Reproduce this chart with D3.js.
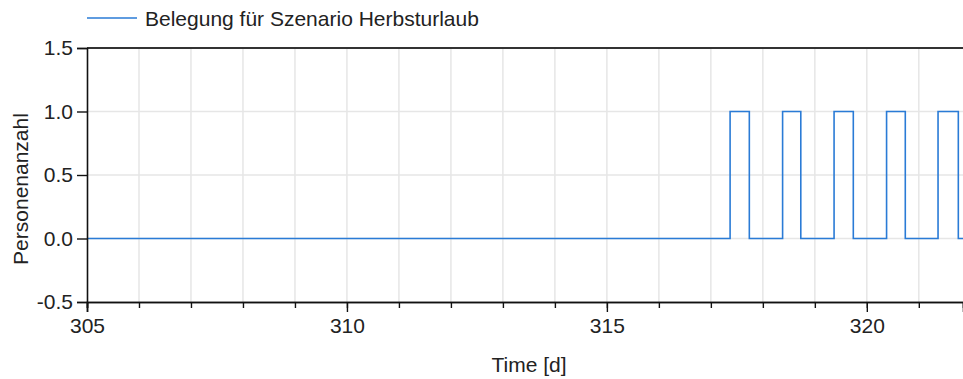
<!DOCTYPE html>
<html>
<head>
<meta charset="utf-8">
<script src="https://cdn.jsdelivr.net/npm/d3@7"></script>
<style>
  html, body { margin: 0; padding: 0; background: #fff; }
  svg { display: block; font-family: "Liberation Sans", Arial, sans-serif; }
</style>
</head>
<body>
<svg id="chart" width="963" height="379"></svg>
<script>
// Occupancy step signal (time in days, number of persons)
const seriesName = "Belegung für Szenario Herbsturlaub";
const times  = [305, 317.37, 317.74, 318.38, 318.73, 319.37, 319.74, 320.38, 320.74, 321.37, 321.76, 322];
const values = [0,   1,      0,      1,      0,      1,      0,      1,      0,      1,      0,      0];

const xMajorTicks = [305, 310, 315, 320];
const xMinorTicks = d3.range(305, 322, 1);
const yTicks = [-0.5, 0.0, 0.5, 1.0, 1.5];
const xDomain = [305, 321.85];
const yDomain = [-0.5, 1.5];
const xLabel = "Time [d]";
const yLabel = "Personenanzahl";

const svg = d3.select("#chart");
const plotLeft = 87, plotRight = 963, plotTop = 48, plotBottom = 302;
const textColor = "#222";
const fontSize = 21;

const x = d3.scaleLinear().domain(xDomain).range([plotLeft, plotRight]);
const y = d3.scaleLinear().domain(yDomain).range([plotBottom, plotTop]);

// grid
const grid = svg.append("g");
grid.selectAll("line.vg").data(xMinorTicks.filter(d => d > 305))
  .join("line")
  .attr("x1", d => x(d)).attr("x2", d => x(d))
  .attr("y1", plotTop).attr("y2", plotBottom)
  .attr("stroke", "#e6e6e6").attr("stroke-width", 1.5);
grid.selectAll("line.hg").data(yTicks.filter(d => d > -0.5 && d < 1.5))
  .join("line")
  .attr("x1", plotLeft).attr("x2", plotRight)
  .attr("y1", d => y(d)).attr("y2", d => y(d))
  .attr("stroke", "#e6e6e6").attr("stroke-width", 1.5);

// signal
svg.append("defs").append("clipPath").attr("id", "plotclip")
  .append("rect").attr("x", plotLeft).attr("y", plotTop - 2)
  .attr("width", plotRight - plotLeft).attr("height", plotBottom - plotTop + 4);

const line = d3.line()
  .x((d, i) => x(times[i]))
  .y((d, i) => y(values[i]))
  .curve(d3.curveStepAfter);

svg.append("path")
  .datum(values)
  .attr("clip-path", "url(#plotclip)")
  .attr("d", line)
  .attr("fill", "none")
  .attr("stroke", "#2a7bd6")
  .attr("stroke-width", 1.6);

// frame top
svg.append("line")
  .attr("x1", plotLeft).attr("x2", plotRight).attr("y1", plotTop).attr("y2", plotTop)
  .attr("stroke", "#333").attr("stroke-width", 2);

// x axis: minor then major ticks
const xMinor = d3.axisBottom(x).tickValues(xMinorTicks).tickSize(6).tickFormat("");
const xMajor = d3.axisBottom(x).tickValues(xMajorTicks).tickSize(10).tickPadding(6).tickFormat(d3.format("d"));
const gxMin = svg.append("g").attr("transform", `translate(0,${plotBottom})`).call(xMinor);
const gx = svg.append("g").attr("transform", `translate(0,${plotBottom})`).call(xMajor);
[gxMin, gx].forEach(g => {
  g.select(".domain").attr("stroke", "#111").attr("stroke-width", 1.6);
  g.selectAll(".tick line").attr("stroke", "#111").attr("stroke-width", 1.4);
});
gx.selectAll(".tick text")
  .attr("font-size", fontSize).attr("fill", textColor)
  .attr("font-family", "Liberation Sans, Arial, sans-serif");

// y axis (plain hyphen for negative values)
const yFormat = d => d.toFixed(1);
const yAxis = d3.axisLeft(y).tickValues(yTicks).tickSize(10).tickPadding(4).tickFormat(yFormat);
const gy = svg.append("g").attr("transform", `translate(${plotLeft},0)`).call(yAxis);
gy.select(".domain").attr("stroke", "#111").attr("stroke-width", 1.6);
gy.selectAll(".tick line").attr("stroke", "#111").attr("stroke-width", 1.4);
gy.selectAll(".tick text")
  .attr("font-size", fontSize).attr("fill", textColor)
  .attr("font-family", "Liberation Sans, Arial, sans-serif");

// axis titles
svg.append("text")
  .attr("x", (plotLeft + plotRight) / 2 + 4).attr("y", 372)
  .attr("text-anchor", "middle")
  .attr("font-size", fontSize).attr("fill", textColor)
  .text(xLabel);
svg.append("text")
  .attr("transform", `translate(28,189) rotate(-90)`)
  .attr("text-anchor", "middle")
  .attr("font-size", fontSize).attr("fill", textColor)
  .text(yLabel);

// legend
const lg = svg.append("g");
lg.append("line").attr("x1", 87).attr("x2", 137).attr("y1", 18).attr("y2", 18)
  .attr("stroke", "#2a7bd6").attr("stroke-width", 1.6);
lg.append("text").attr("x", 145).attr("y", 26)
  .attr("font-size", fontSize).attr("fill", textColor)
  .text(seriesName);
</script>
</body>
</html>
